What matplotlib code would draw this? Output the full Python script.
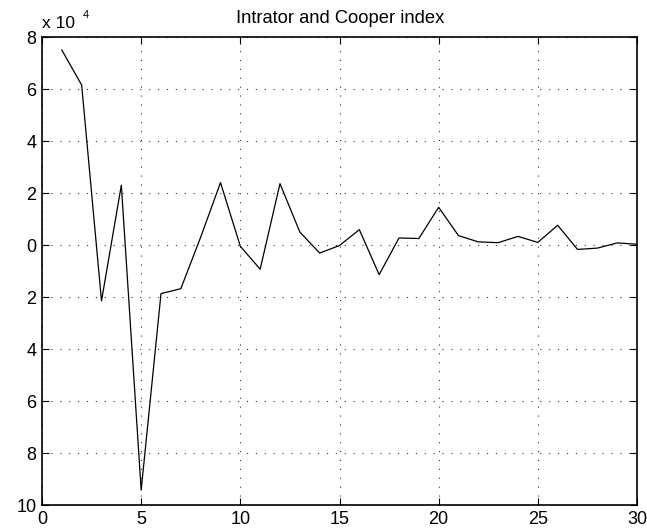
import matplotlib
matplotlib.use("Agg")
import matplotlib.pyplot as plt
from matplotlib.ticker import FixedLocator, FixedFormatter

# Index values (in units of 1e4) for components 1..30
components = list(range(1, 31))
index_values = [7.5, 6.15, -2.15, 2.3, -9.43, -1.87, -1.68, 0.3, 2.4, -0.05,
                -0.93, 2.36, 0.5, -0.31, -0.02, 0.59, -1.14, 0.27, 0.25, 1.45,
                0.36, 0.12, 0.09, 0.33, 0.1, 0.76, -0.17, -0.12, 0.08, 0.03]

x_ticks = [0, 5, 10, 15, 20, 25, 30]
y_ticks = [-10, -8, -6, -4, -2, 0, 2, 4, 6, 8]
y_tick_labels = ["10", "8", "6", "4", "2", "0", "2", "4", "6", "8"]

plt.rcParams["font.family"] = ["Liberation Sans", "DejaVu Sans"]

W, H = 647, 530
fig = plt.figure(figsize=(W / 100, H / 100), dpi=100)
ax = fig.add_axes([42 / W, 25 / H, 595 / W, 468 / H])

ax.plot(components, index_values, color="black", linewidth=0.9)

ax.set_xlim(0, 30)
ax.set_ylim(-10, 8)
ax.xaxis.set_major_locator(FixedLocator(x_ticks))
ax.yaxis.set_major_locator(FixedLocator(y_ticks))
ax.yaxis.set_major_formatter(FixedFormatter(y_tick_labels))

ax.grid(True, color="#333333", linestyle=(0, (1, 7)), linewidth=0.8)
ax.tick_params(direction="in", length=5, width=0.8, top=True, right=True,
               labelsize=13, pad=4)
for s in ax.spines.values():
    s.set_linewidth(1.2)

fig.text(340 / W, 1 - 22.7 / H, "Intrator and Cooper index", fontsize=13.25,
         ha="center", va="baseline")

fig.text(42 / W, 1 - 28.3 / H, "x 10", fontsize=12.5, ha="left", va="baseline")
fig.text(83 / W, 1 - 18.3 / H, "4", fontsize=8, ha="left", va="baseline")

fig.savefig("out.png", dpi=100)
